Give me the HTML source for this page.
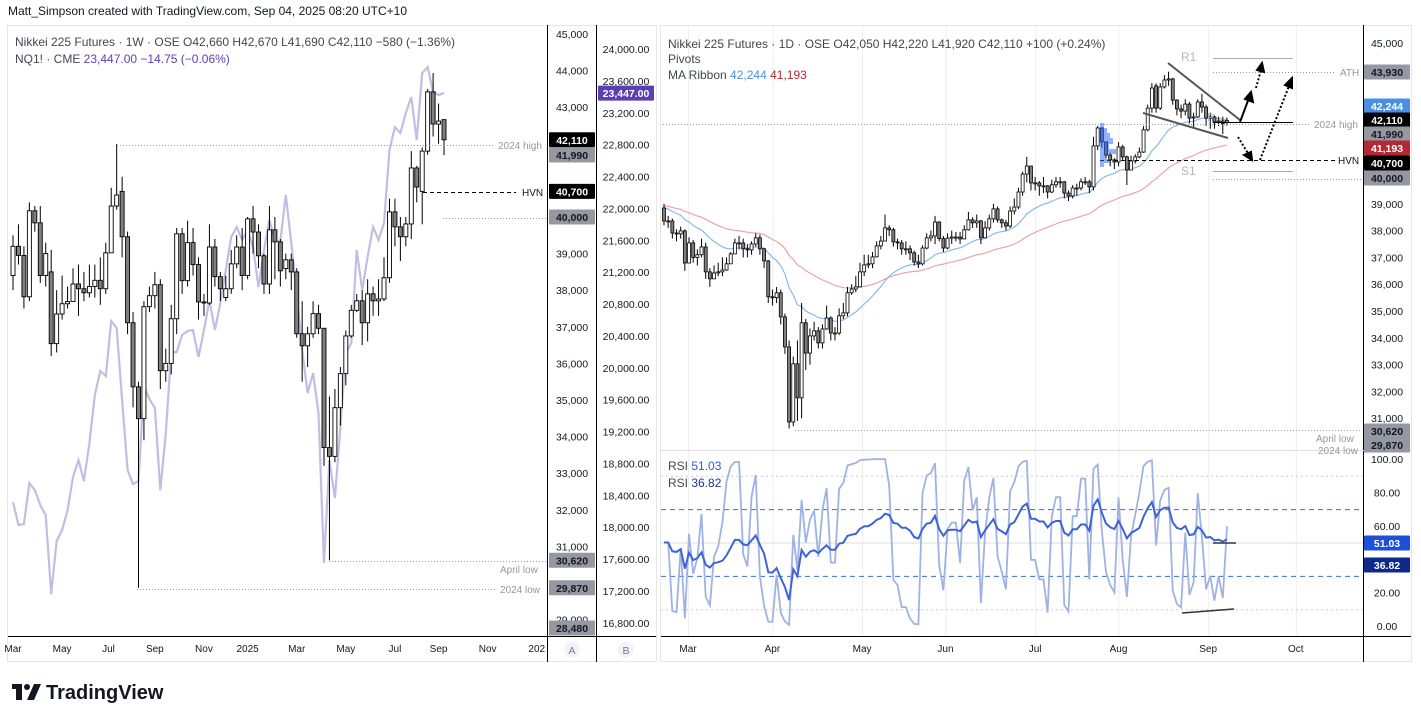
<!DOCTYPE html>
<html><head><meta charset="utf-8">
<style>
html,body{margin:0;padding:0;background:#fff;}
body{width:1421px;height:722px;overflow:hidden;font-family:"Liberation Sans",sans-serif;}
svg text{font-family:"Liberation Sans",sans-serif;}
</style></head>
<body>
<svg id="chart" width="1421" height="722" viewBox="0 0 1421 722" xmlns="http://www.w3.org/2000/svg">
<rect x="0" y="0" width="1421" height="722" fill="#ffffff"/>
<text x="8" y="15" font-size="12" fill="#131722">Matt_Simpson created with TradingView.com, Sep 04, 2025 08:20 UTC+10</text>

<rect x="7.5" y="25.5" width="649" height="636" fill="none" stroke="#e6e6e6"/>
<rect x="660.5" y="25.5" width="751" height="636" fill="none" stroke="#e6e6e6"/>

<g id="rgrid" stroke="#eeeeee" stroke-width="1"></g>

<g id="leftMarks"></g>
<g id="rightMarks"></g>
<g id="rsiMarks"></g>

<g font-size="10" fill="#9598a1">
  <line x1="117" y1="145.5" x2="495" y2="145.5" stroke="#999" stroke-dasharray="1,2"/>
  <text x="498" y="149">2024 high</text>
  <line x1="423" y1="192.5" x2="516" y2="192.5" stroke="#000" stroke-dasharray="4,3"/>
  <text x="522" y="196" fill="#131722">HVN</text>
  <line x1="443" y1="218.5" x2="546" y2="218.5" stroke="#999" stroke-dasharray="1,2"/>
  <line x1="329" y1="561.5" x2="546" y2="561.5" stroke="#999" stroke-dasharray="1,2"/>
  <text x="500" y="573">April low</text>
  <line x1="137" y1="589.5" x2="495" y2="589.5" stroke="#999" stroke-dasharray="1,2"/>
  <text x="500" y="593">2024 low</text>
</g>

<text x="15" y="46" font-size="12" fill="#434651">Nikkei 225 Futures · 1W · OSE  O42,660  H42,670  L41,690  C42,110  −580 (−1.36%)</text>
<text x="15" y="63" font-size="12" fill="#434651">NQ1! · CME  <tspan fill="#5b3fb5">23,447.00  −14.75 (−0.06%)</tspan></text>

<line x1="547.5" y1="25" x2="547.5" y2="662" stroke="#000"/>
<line x1="596.5" y1="25" x2="596.5" y2="662" stroke="#000"/>
<line x1="8" y1="636.5" x2="656" y2="636.5" stroke="#000"/>
<g id="axisA" font-size="10.5" fill="#131722" text-anchor="middle"></g>
<g id="axisB" font-size="10.5" fill="#131722" text-anchor="middle"></g>
<g id="xaxisL" font-size="10" fill="#131722" text-anchor="middle"></g>
<circle cx="572" cy="650" r="8" fill="#f0f3fa"/><text x="572" y="654" font-size="10.5" fill="#787b86" text-anchor="middle">A</text>
<circle cx="626" cy="650" r="8" fill="#f0f3fa"/><text x="626" y="654" font-size="10.5" fill="#787b86" text-anchor="middle">B</text>

<text x="668" y="48" font-size="12" fill="#434651">Nikkei 225 Futures · 1D · OSE  O42,050  H42,220  L41,920  C42,110  +100 (+0.24%)</text>
<text x="668" y="63" font-size="12" fill="#434651">Pivots</text>
<text x="668" y="79" font-size="12" fill="#434651">MA Ribbon  <tspan fill="#4a90e2">42,244</tspan>  <tspan fill="#b22833">41,193</tspan></text>
<text x="668" y="470" font-size="12" fill="#434651">RSI  <tspan fill="#2f5bd3">51.03</tspan></text>
<text x="668" y="487" font-size="12" fill="#434651">RSI  <tspan fill="#1e3a8a">36.82</tspan></text>

<line x1="1363.5" y1="25" x2="1363.5" y2="662" stroke="#000"/>
<line x1="661" y1="450.5" x2="1411" y2="450.5" stroke="#dddddd"/>
<line x1="661" y1="636.5" x2="1411" y2="636.5" stroke="#000"/>
<g id="axisR" font-size="10.5" fill="#131722" text-anchor="middle"></g>
<g id="axisRSI" font-size="10.5" fill="#131722" text-anchor="middle"></g>
<g id="xaxisR" font-size="10" fill="#131722" text-anchor="middle"></g>

<g font-size="10" fill="#9598a1">
  <line x1="663" y1="124.5" x2="1310" y2="124.5" stroke="#999" stroke-dasharray="1,2"/>
  <text x="1314" y="128">2024 high</text>
  <line x1="1213" y1="72.5" x2="1335" y2="72.5" stroke="#999" stroke-dasharray="1,2"/>
  <text x="1340" y="76">ATH</text>
  <line x1="1100" y1="160.5" x2="1335" y2="160.5" stroke="#000" stroke-dasharray="4,3"/>
  <text x="1338" y="164" fill="#131722">HVN</text>
  <line x1="1213" y1="58.5" x2="1293" y2="58.5" stroke="#aaa"/>
  <text x="1181" y="61" font-size="12" fill="#b2b5be">R1</text>
  <line x1="1213" y1="171.5" x2="1293" y2="171.5" stroke="#aaa"/>
  <text x="1181" y="175" font-size="12" fill="#b2b5be">S1</text>
  <line x1="1213" y1="179.5" x2="1362" y2="179.5" stroke="#999" stroke-dasharray="1,2"/>
  <line x1="795" y1="430.5" x2="1362" y2="430.5" stroke="#999" stroke-dasharray="1,2"/>
  <text x="1316" y="442">April low</text>
  <text x="1318" y="454">2024 low</text>
  <line x1="1213" y1="122.5" x2="1293" y2="122.5" stroke="#000"/>
  <text x="1207" y="121" font-size="11" fill="#b2b5be">P</text>
  <line x1="1168" y1="63" x2="1240" y2="120" stroke="#555" stroke-width="2"/>
  <line x1="1143" y1="113" x2="1228" y2="138" stroke="#555" stroke-width="2"/>
  <g stroke="#000" stroke-width="2" fill="#000">
    <line x1="1240" y1="122" x2="1249" y2="98"/>
    <polygon points="1251,92 1253,102 1245,99"/>
    <line x1="1256" y1="88" x2="1261" y2="70" stroke-dasharray="2,2"/>
    <polygon points="1262,63 1264,72 1257,70"/>
    <line x1="1238" y1="137" x2="1249" y2="155" stroke-dasharray="2,2"/>
    <polygon points="1252,160 1244,155 1251,152"/>
    <line x1="1260" y1="160" x2="1289" y2="86" stroke-dasharray="2,2"/>
    <polygon points="1292,78 1292,88 1285,85"/>
  </g>
  <g fill="#2962ff" opacity="0.5">
    <rect x="1100" y="123" width="4" height="5"/><rect x="1100" y="128" width="7" height="5"/>
    <rect x="1100" y="133" width="10" height="5"/><rect x="1100" y="138" width="13" height="6"/>
    <rect x="1100" y="144" width="9" height="5"/><rect x="1100" y="149" width="16" height="5"/>
    <rect x="1100" y="154" width="6" height="5"/><rect x="1100" y="159" width="10" height="4"/>
    <rect x="1100" y="163" width="4" height="4"/>
  </g>
  <line x1="1213" y1="543" x2="1236" y2="543" stroke="#333" stroke-width="1.5"/>
  <line x1="1182" y1="613" x2="1234" y2="609" stroke="#333" stroke-width="1.5"/>
</g>

<g>
  <rect x="12" y="684" width="10" height="5" fill="#131722"/>
  <rect x="16" y="684" width="6" height="16" fill="#131722"/>
  <circle cx="27" cy="687" r="3" fill="#131722"/>
  <polygon points="34,684 41,684 34,700 27,700" fill="#131722"/>
  <text x="46" y="699" font-size="20" font-weight="bold" fill="#131722">TradingView</text>
</g>
</svg>

<script>
// ---------- LEFT WEEKLY DATA ----------
const wOpen = [38400,39200,38950,37820,40170,39840,38400,38500,36540,37350,
37630,37690,38170,38040,37930,38100,38270,38040,39020,40300,
40700,39460,37110,35360,34490,37550,37850,38150,35800,36000,
37220,39540,38260,39300,38700,37680,37650,39180,38370,37800,
38040,38720,39180,38400,39950,39590,38940,38170,39650,39320,
38590,38830,38500,36810,36480,36810,37360,36960,33700,33460,
34790,35720,36750,37450,37710,37110,37900,37710,37760,38340,
40140,39730,39460,39810,41340,40700,41800,43420,42540,42660];
const wHigh = [39500,39800,39200,40400,40300,40300,39300,39100,38000,38400,
38100,38600,38700,38500,38700,38700,38900,39300,40800,41990,
41100,39600,37400,35500,37700,38100,38500,38300,36400,37600,
39700,39700,39900,39700,38900,37900,39800,39400,38500,38400,
39100,39500,39700,40000,40300,39800,39000,40300,40000,39400,
39000,39000,38600,37700,37000,37700,37600,36900,35100,35300,
35900,36900,37600,37900,38000,38300,38100,38300,38900,40500,
40500,40000,40000,41800,41400,41900,43500,43930,43100,42670];
const wLow = [38000,38700,37500,37700,39600,38200,38100,36200,36300,37200,
37500,37700,37300,37700,37800,37800,37600,37900,39100,40200,
38900,36800,34800,29870,33900,37400,37500,35300,35500,35700,
36800,37900,38100,38400,37200,37300,37600,38100,37700,37700,
37900,38600,38000,38300,39000,38600,37900,37900,38300,38100,
38300,38000,36700,35500,35900,36700,36800,33200,30620,33300,
34300,35400,36700,37400,36500,36600,37300,37300,37700,38200,
39200,38800,39200,39400,40400,39800,41700,42200,42000,41690];
const wClose = [39200,38950,37820,40170,39840,38400,39000,36540,37350,37630,
37690,38170,38040,37930,38100,38270,38040,39020,40300,40600,
39460,37110,35360,34490,37550,37850,38150,35800,36000,37220,
39540,38260,39300,38700,37680,37650,39180,38370,38040,38040,
38720,39180,38400,39950,39590,38940,38170,39650,39320,38530,
38830,38500,36810,36480,36810,37360,36960,33700,33460,34790,
35720,36750,37450,37710,37110,37900,37710,37760,38340,40140,
39730,39460,39810,41340,40820,41800,43420,42540,42620,42110];
const nqClose = [18315,18026,18039,18553,18465,18277,18152,17160,17825,17963,
18214,18629,18842,18578,19055,19658,19959,19896,20586,20499,
19595,18717,18541,18578,19771,19608,19495,18465,19181,20197,
20197,20411,20461,20474,20135,20474,20850,20474,20812,21226,
21641,21766,21603,21728,21515,21013,21477,21854,21603,21578,
22168,21565,20938,20222,19683,19934,19432,17549,18842,18365,
19256,20185,20310,21477,20975,21390,21766,21603,21816,22732,
23021,22946,23197,23398,22858,23699,23774,23460,23423,23447];
const axisATicks = [45000,44000,43000,39000,38000,37000,36000,35000,34000,33000,32000,31000,29000];
const axisBTicks = [24000,23600,23200,22800,22400,22000,21600,21200,20800,20400,20000,19600,19200,18800,18400,18000,17600,17200,16800];
const xLabelsL = ["Mar","May","Jul","Sep","Nov","2025","Mar","May","Jul","Sep","Nov","202"];
const xLabelsLIdx = [0,9,17.5,26,35,43,52,61,70,78,87,96];

// ---------- RIGHT DAILY DATA ----------
const dOpen = [38845,38360,38360,37910,37880,37990,36790,37540,37000,37100,
37390,36460,36200,36420,36460,36530,36760,37130,37540,37540,
37320,37280,37500,37730,37320,36870,35530,35500,35680,34780,
33660,30860,33030,31760,34560,33430,34070,34260,33810,34330,
34740,34180,34180,34820,34930,35680,35820,35900,36460,36720,
36760,37020,37430,37610,38100,38030,37580,37540,37320,37320,
37170,36830,36760,37350,37730,37800,38320,37700,37350,37720,
37760,37760,37690,38030,38400,38290,38360,37730,38100,38440,
38810,38400,38290,38170,38730,38880,39440,40110,40410,39780,
39780,39670,39670,39440,39710,39820,39820,39400,39290,39590,
39590,39820,39820,39630,41160,41830,41310,40820,40640,40560,
41120,40750,40260,40600,40750,40930,41760,42570,43400,42570,
43360,43620,43660,42870,42540,42460,42720,42200,42240,42800,
42610,42200,42240,42050,42090,42050];
const dHigh = [39000,38550,38450,38050,38150,38050,37750,37650,37300,37700,
37550,36600,36700,36800,37000,37000,37200,37700,37800,37700,
37500,37600,37900,37850,37350,36900,35800,35900,35800,34900,
33900,33300,33900,35300,34700,34350,34600,34400,34500,35200,
34800,34400,35100,35300,35900,36000,36300,36800,37100,37100,
37200,37600,37800,38600,38200,38100,37700,37650,37600,37450,
37250,37100,37450,37900,38000,38550,38350,37800,37900,38000,
37950,37950,38200,38700,38500,38600,38400,38350,38600,39000,
38900,38450,38400,38900,39200,39600,40200,40750,40400,40000,
39850,40000,39700,39900,40000,40000,39850,39500,39700,39750,
39950,40000,39900,41500,41900,41850,41300,40900,40700,41300,
41200,40800,40800,40850,41100,41900,42700,43500,43500,43500,
43800,43930,43700,42900,42700,42900,42800,42400,42900,43100,
42700,42400,42300,42250,42250,42220];
const dLow = [38200,38100,37700,37600,37700,36500,36900,36800,36700,37000,
36200,35900,36200,36300,36300,36500,36900,37200,37300,37000,
37000,37100,37400,37100,36600,35300,35200,35300,34500,33400,
30620,30700,30900,31000,32800,33000,33900,33600,33600,34300,
33900,33900,34100,34700,34800,35600,35700,35900,36300,36600,
36600,37000,37300,37700,37800,37400,37300,37100,37100,36900,
36700,36600,36700,37300,37600,37500,37600,37200,37300,37500,
37600,37500,37700,38000,38100,38100,37500,37900,38000,38300,
38300,38100,38000,38100,38600,38800,39300,39800,39500,39500,
39300,39400,39200,39400,39600,39600,39200,39100,39200,39300,
39500,39700,39400,39500,41000,41100,40700,40400,40300,40400,
40600,39700,40400,40500,40700,40900,41700,42400,42400,42500,
43300,43400,42700,42300,42200,42300,42000,41800,42200,42400,
41900,41800,41800,41900,41600,41920];
const dClose = [38360,38360,37910,37880,37990,36790,37540,37000,37100,37390,
36460,36200,36420,36460,36530,36760,37130,37540,37540,37320,
37280,37500,37730,37320,36870,35530,35500,35680,34780,33660,
30860,33030,31760,34560,33430,34070,34260,33810,34330,34740,
34180,34180,34820,34930,35680,35820,35900,36460,36720,36760,
37020,37430,37610,38100,38030,37580,37540,37320,37320,37170,
36830,36760,37350,37730,37800,38320,37700,37350,37720,37760,
37760,37690,38030,38400,38290,38360,37730,38100,38440,38810,
38400,38290,38170,38730,38880,39440,40110,40410,39780,39780,
39670,39670,39440,39710,39820,39820,39400,39290,39590,39590,
39820,39820,39630,41160,41830,41310,40820,40640,40560,41120,
40750,40260,40600,40750,40930,41760,42570,43320,42570,43360,
43620,43660,42870,42540,42460,42720,42200,42240,42800,42610,
42200,42240,42050,42090,42000,42110];
const axisRTicks = [45000,39000,38000,37000,36000,35000,34000,33000,32000,31000];
const rsiTicks = [100,80,60,20,0];
const xLabelsR = ["Mar","Apr","May","Jun","Jul","Aug","Sep","Oct"];
const xLabelsRIdx = [5.75,26,47.5,67.5,89,109,130.5,151.5];
const maFastPeriod = 20, maSlowPeriod = 50, maFastSeed = 38900, maSlowSeed = 38950;
const rsiSlowPeriod = 14, rsiFastPeriod = 2;
const rsiSlowSeed = 170, rsiFastSeed = 200;

// ---------- scales ----------
const xL = i => 13 + 5.456*i;
const yA = v => 34 + (45000 - v)*0.0366;
const yB = v => 49 + (24000 - v)*0.0797;
const xR = i => 664 + 4.17*i;
const yR = v => 43 + (45000 - v)*0.0268;
const yRSI = v => 626 - v*1.67;

const NS = "http://www.w3.org/2000/svg";
function mk(tag, attrs, parent){ const e=document.createElementNS(NS,tag); for(const k in attrs) e.setAttribute(k,attrs[k]); parent.appendChild(e); return e; }
function fmt(v){ return v.toLocaleString('en-US'); }

const svg = document.getElementById('chart');
const defs = mk('defs',{},svg);
const c1 = mk('clipPath',{id:'clipL'},defs); mk('rect',{x:8,y:26,width:539,height:610},c1);
const c2 = mk('clipPath',{id:'clipR'},defs); mk('rect',{x:661,y:26,width:702,height:424},c2);
const c3 = mk('clipPath',{id:'clipRSI'},defs); mk('rect',{x:661,y:451,width:702,height:185},c3);

const rgrid = document.getElementById('rgrid');
xLabelsRIdx.forEach(ix => {
  const gl = mk('line',{x1:xR(ix)+0.5,y1:26,x2:xR(ix)+0.5,y2:636},rgrid);
  
  
});
const rsiG = document.getElementById('rsiMarks');
rsiG.setAttribute('clip-path','url(#clipRSI)');
[[90,'#c8cbd4','2,3'],[70,'#3d6ae0','5,4'],[50,'#dddddd',''],[30,'#3d6ae0','5,4'],[10,'#c8cbd4','2,3']].forEach(r=>{
  const l = mk('line',{x1:661,y1:yRSI(r[0])+0.5,x2:1363,y2:yRSI(r[0])+0.5,stroke:r[1],'stroke-dasharray':r[2]},rsiG);
  
  
});

// ---------- left chart ----------
const lg = document.getElementById('leftMarks');
lg.setAttribute('clip-path','url(#clipL)');
let nqPts = nqClose.map((v,i)=>xL(i).toFixed(1)+','+yB(v).toFixed(1)).join(' ');
const nqLine = mk('polyline',{points:nqPts,fill:'none',stroke:'#c2bde2','stroke-width':2.2},lg);


wClose.forEach((c,i)=>{
  const o=wOpen[i], x=xL(i), up=c>=o;
  const g = mk('g',{},lg);
  
  
  mk('line',{x1:x,y1:yA(wHigh[i]),x2:x,y2:yA(wLow[i]),stroke:'#000','stroke-width':1},g);
  const top=yA(Math.max(o,c)), bot=yA(Math.min(o,c));
  mk('rect',{x:x-2,y:top,width:4,height:Math.max(1,bot-top),fill:up?'#fff':'#808080',stroke:'#000','stroke-width':0.9},g);
});

const axA = document.getElementById('axisA');
axisATicks.forEach(v=>{
  const t = mk('text',{x:572,y:yA(v)+4},axA); t.textContent=fmt(v);
  
  
});
function tag(parent, cx, y, w, txt, bg, fg){
  const g = mk('g',{},parent);
  mk('rect',{x:cx-w/2,y:y-7.5,width:w,height:15,fill:bg,rx:1},g);
  const t = mk('text',{x:cx,y:y+4,fill:fg,'font-weight':'bold'},g); t.textContent=txt;
  return g;
}
[[42110,'#000','#fff'],[41990,'#9598a1','#131722'],[40700,'#000','#fff'],[40000,'#9598a1','#131722'],[30620,'#9598a1','#131722'],[29870,'#9598a1','#131722'],[28480,'#9598a1','#131722']].forEach(p=>{
  let yy=yA(p[0]); if(p[0]===41990) yy=155; if(p[0]===28480) yy=628;
  const g=tag(axA,572,yy,46,fmt(p[0]),p[1],p[2]);
  
  
});
const axB = document.getElementById('axisB');
axisBTicks.forEach(v=>{
  const t = mk('text',{x:626,y:yB(v)+4},axB); t.textContent=v.toLocaleString('en-US',{minimumFractionDigits:2});
  
  
});
const nqTag = tag(axB,626,yB(23447),56,'23,447.00','#5b3fb5','#fff');


const xaL = document.getElementById('xaxisL');
xLabelsL.forEach((s,k)=>{
  const t = mk('text',{x:xL(xLabelsLIdx[k]),y:652},xaL); t.textContent=s;
  
  
});

// ---------- right chart ----------
const rg = document.getElementById('rightMarks');
rg.setAttribute('clip-path','url(#clipR)');
function ema(arr, p, seed){ const k=2/(p+1); let e=seed; return arr.map(v=>(e=v*k+e*(1-k))); }
const maFast = ema(dClose, maFastPeriod, maFastSeed);
const maSlow = ema(dClose, maSlowPeriod, maSlowSeed);
const maS = mk('polyline',{points:maSlow.map((v,i)=>xR(i).toFixed(1)+','+yR(v).toFixed(1)).join(' '),fill:'none',stroke:'#e8a5aa','stroke-width':1.2},rg);


const maF = mk('polyline',{points:maFast.map((v,i)=>xR(i).toFixed(1)+','+yR(v).toFixed(1)).join(' '),fill:'none',stroke:'#8ab8ee','stroke-width':1.2},rg);


dClose.forEach((c,i)=>{
  const o=dOpen[i], x=xR(i), up=c>=o;
  const g = mk('g',{},rg);
  
  
  mk('line',{x1:x,y1:yR(dHigh[i]),x2:x,y2:yR(dLow[i]),stroke:'#000','stroke-width':1},g);
  const top=yR(Math.max(o,c)), bot=yR(Math.min(o,c));
  mk('rect',{x:x-1.5,y:top,width:3,height:Math.max(1,bot-top),fill:up?'#fff':'#808080',stroke:'#000','stroke-width':0.8},g);
});

// RSI (Wilder smoothing, seeded with equal average gain/loss so it starts near 50)
function rsi(arr, p, seed){
  const out=[]; let ag=seed, al=seed;
  for(let i=0;i<arr.length;i++){
    const d = i===0 ? 0 : arr[i]-arr[i-1];
    const gn=Math.max(d,0), ls=Math.max(-d,0);
    ag=(ag*(p-1)+gn)/p; al=(al*(p-1)+ls)/p;
    out.push(al===0?100:100-100/(1+ag/al));
  }
  return out;
}
const rsiFast = rsi(dClose, rsiFastPeriod, rsiFastSeed);
const rsiSlow = rsi(dClose, rsiSlowPeriod, rsiSlowSeed);
const rf = mk('polyline',{points:rsiFast.map((v,i)=>xR(i).toFixed(1)+','+yRSI(v).toFixed(1)).join(' '),fill:'none',stroke:'#9fb2e3','stroke-width':1.8},rsiG);


const rs = mk('polyline',{points:rsiSlow.map((v,i)=>xR(i).toFixed(1)+','+yRSI(v).toFixed(1)).join(' '),fill:'none',stroke:'#3d63d6','stroke-width':2},rsiG);



const axR = document.getElementById('axisR');
axisRTicks.forEach(v=>{
  const t = mk('text',{x:1387,y:yR(v)+4},axR); t.textContent=fmt(v);
  
  
});
[[43930,72,'#9598a1','#131722'],[42244,106,'#4a90e2','#fff'],[42110,120,'#000','#fff'],[41990,134,'#9598a1','#131722'],[41193,148,'#b22833','#fff'],[40700,163,'#000','#fff'],[40000,178,'#9598a1','#131722'],[30620,431,'#9598a1','#131722'],[29870,445,'#9598a1','#131722']].forEach(p=>{
  const g=tag(axR,1387,p[1],46,fmt(p[0]),p[2],p[3]);
  
  
});
const axRSI = document.getElementById('axisRSI');
rsiTicks.forEach(v=>{
  const t = mk('text',{x:1387,y:yRSI(v)+4},axRSI); t.textContent=v.toFixed(2);
  
  
});
const rt1=tag(axRSI,1387,543,46,'51.03','#1e4fd8','#fff');


const rt2=tag(axRSI,1387,565,46,'36.82','#0d2a8a','#fff');


const xaR = document.getElementById('xaxisR');
xLabelsR.forEach((s,k)=>{
  const t = mk('text',{x:xR(xLabelsRIdx[k]),y:652},xaR); t.textContent=s;
  
  
});
</script>
</body></html>
